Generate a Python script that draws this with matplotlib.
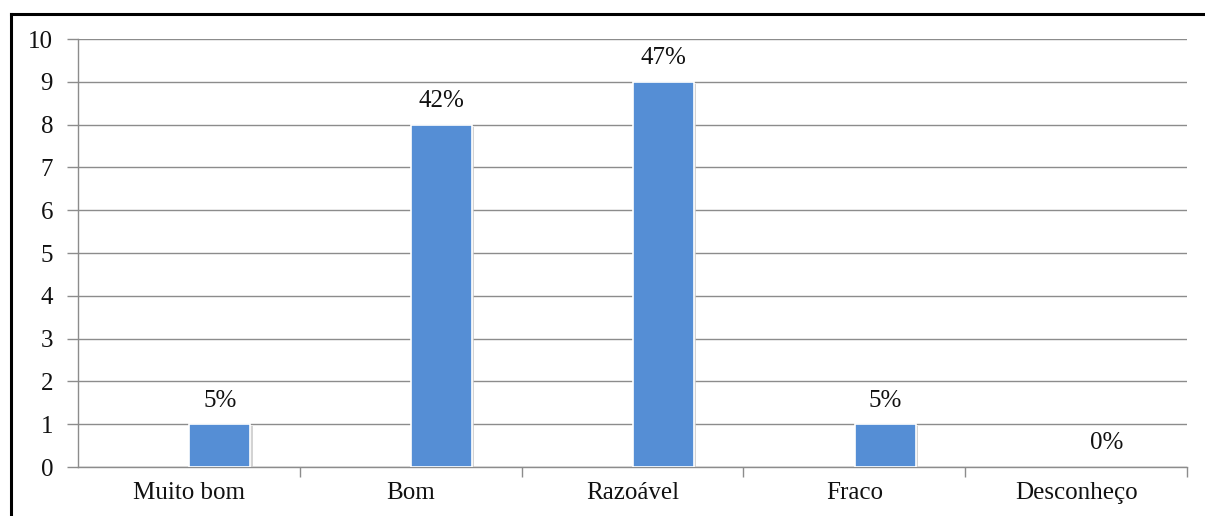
import matplotlib
matplotlib.use("Agg")
import matplotlib.pyplot as plt
from matplotlib.lines import Line2D
import matplotlib.patheffects as pe

categories = ["Muito bom", "Bom", "Razoável", "Fraco", "Desconheço"]
counts = [1, 8, 9, 1, 0]
percent_labels = ["5%", "42%", "47%", "5%", "0%"]
y_ticks = list(range(0, 11))

plt.rcParams["font.family"] = ["Liberation Serif", "DejaVu Serif"]

W, H = 1205, 516
fig = plt.figure(figsize=(W / 100, H / 100), dpi=100)
ax = fig.add_axes([78 / W, 1 - 467 / H, 1109 / W, 428 / H])

x = list(range(len(categories)))
# series sits slightly right of each category centre
bar_x = [i + 0.14 for i in x]
bars = ax.bar(bar_x, counts, width=0.275, color="#558ED5", zorder=3,
              edgecolor="white", linewidth=1.2)
for b, v in zip(bars, counts):
    if v == 0:
        b.set_visible(False)
        continue
    b.set_path_effects([pe.SimplePatchShadow(offset=(1.5, -1.5), shadow_rgbFace="#c8c8c8", alpha=0.8),
                        pe.Normal()])

ax.set_xlim(-0.5, len(categories) - 0.5)
ax.set_ylim(0, 10)
ax.set_yticks(y_ticks)
ax.set_yticklabels([str(t) for t in y_ticks], fontsize=18, color="#111111")
ax.grid(axis="y", color="#8c8c8c", linewidth=1.0, zorder=0)

# category boundaries carry the x tick marks, labels sit at centres
ax.set_xticks([i + 0.5 for i in range(len(categories))])
ax.set_xticklabels([])
ax.set_xticks(x, minor=True)
ax.set_xticklabels(categories, minor=True, fontsize=18, color="#111111")
ax.tick_params(axis="x", which="major", length=7, color="#8c8c8c", width=1)
ax.tick_params(axis="x", which="minor", length=0, pad=11)
ax.tick_params(axis="y", length=8, color="#8c8c8c", width=1, pad=10)

for s in ["top", "right"]:
    ax.spines[s].set_visible(False)
for s in ["left", "bottom"]:
    ax.spines[s].set_color("#8c8c8c")
    ax.spines[s].set_linewidth(1.0)

for bx, v, lab in zip(bar_x, counts, percent_labels):
    ax.annotate(lab, (bx, v), xytext=(0, 17), textcoords="offset points",
                ha="center", va="center", fontsize=18, color="#111111")

# outer frame (left and top edges)
fig.add_artist(Line2D([11 / W, 11 / W], [0, 1 - 14 / H], color="black", linewidth=2.2,
                      transform=fig.transFigure))
fig.add_artist(Line2D([11 / W, 1], [1 - 14 / H, 1 - 14 / H], color="black", linewidth=2.2,
                      transform=fig.transFigure))

fig.savefig("out.png", dpi=100)
